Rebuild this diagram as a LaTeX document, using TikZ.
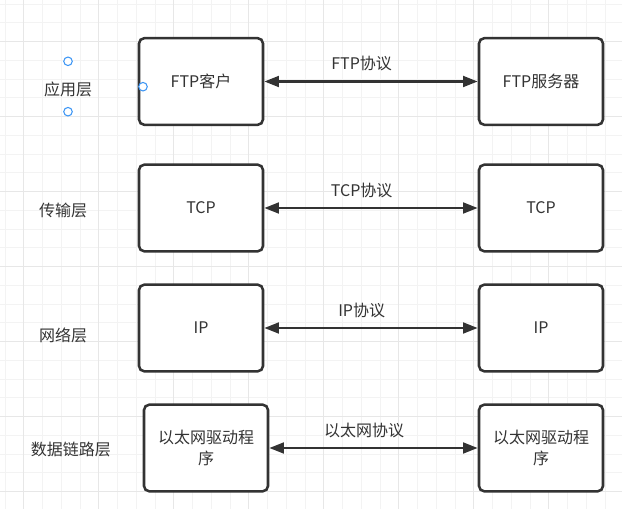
\documentclass[tikz,border=0pt]{standalone}
\usepackage{fontspec}
\setmainfont{Noto Sans CJK SC}
\usetikzlibrary{arrows.meta}
\definecolor{ink}{HTML}{333333}
\definecolor{gridmin}{HTML}{F3F3F3}
\definecolor{gridmaj}{HTML}{E7E7E7}
\definecolor{handle}{HTML}{3D96F5}
\begin{document}
\begin{tikzpicture}[x=.75pt,y=-.75pt,
  layerbox/.style={draw=ink,line width=1.9pt,rounded corners=4pt,fill=white,
    minimum width=93pt,minimum height=65pt,text=ink,align=center,
    font=\fontsize{12}{15.75}\selectfont},
  layername/.style={text=ink,font=\fontsize{12}{14}\selectfont},
  proto/.style={draw=ink,line width=2.1pt,
    {Triangle[length=11pt,width=8pt]}-{Triangle[length=11pt,width=8pt]}},
  protoname/.style={midway,xshift=-7pt,yshift=13.5pt,text=ink,
    font=\fontsize{12}{14}\selectfont}]
  \def\L{201}\def\R{541}
  \useasboundingbox (0,0) rectangle (622,509);
  \foreach \i in {0,...,32} \draw[gridmin,line width=.75pt] ({5+18.75*\i},0)--({5+18.75*\i},509);
  \foreach \i in {0,...,26} \draw[gridmin,line width=.75pt] (0,{4.2+18.75*\i})--(622,{4.2+18.75*\i});
  \foreach \i in {0,...,7} \draw[gridmaj,line width=.75pt] ({23.75+75*\i},0)--({23.75+75*\i},509);
  \foreach \i in {0,...,6} \draw[gridmaj,line width=.75pt] (0,{41.7+75*\i})--(622,{41.7+75*\i});

  \node[layername] (app) at (68,89) {应用层};
  \node[layername] (trans) at (63,210) {传输层};
  \node[layername] (net) at (63,335) {网络层};
  \node[layername] (link) at (71,449) {数据链路层};

  \node[layerbox] (ftpc) at (\L,81.5) {FTP客户};
  \node[layerbox] (ftps) at (\R,81.5) {FTP服务器};
  \node[layerbox] (tcpc) at (\L,208) {TCP};
  \node[layerbox] (tcps) at (\R,208) {TCP};
  \node[layerbox] (ipc) at (\L,328) {IP};
  \node[layerbox] (ips) at (\R,328) {IP};
  \node[layerbox] (ethc) at (206,448) {以太网驱动程\\序};
  \node[layerbox] (eths) at (\R,448) {以太网驱动程\\序};

  \draw[proto] (ftpc) -- (ftps) node[protoname] {FTP协议};
  \draw[proto] (tcpc) -- (tcps) node[protoname] {TCP协议};
  \draw[proto] (ipc) -- (ips) node[protoname] {IP协议};
  \draw[proto] (ethc) -- (eths) node[protoname] {以太网协议};

  \foreach \p in {(68,61.3),(68,111.7),(143,86.7)}
    \draw[handle,fill=white,line width=.8pt] \p circle (3.2pt);
\end{tikzpicture}
\end{document}
